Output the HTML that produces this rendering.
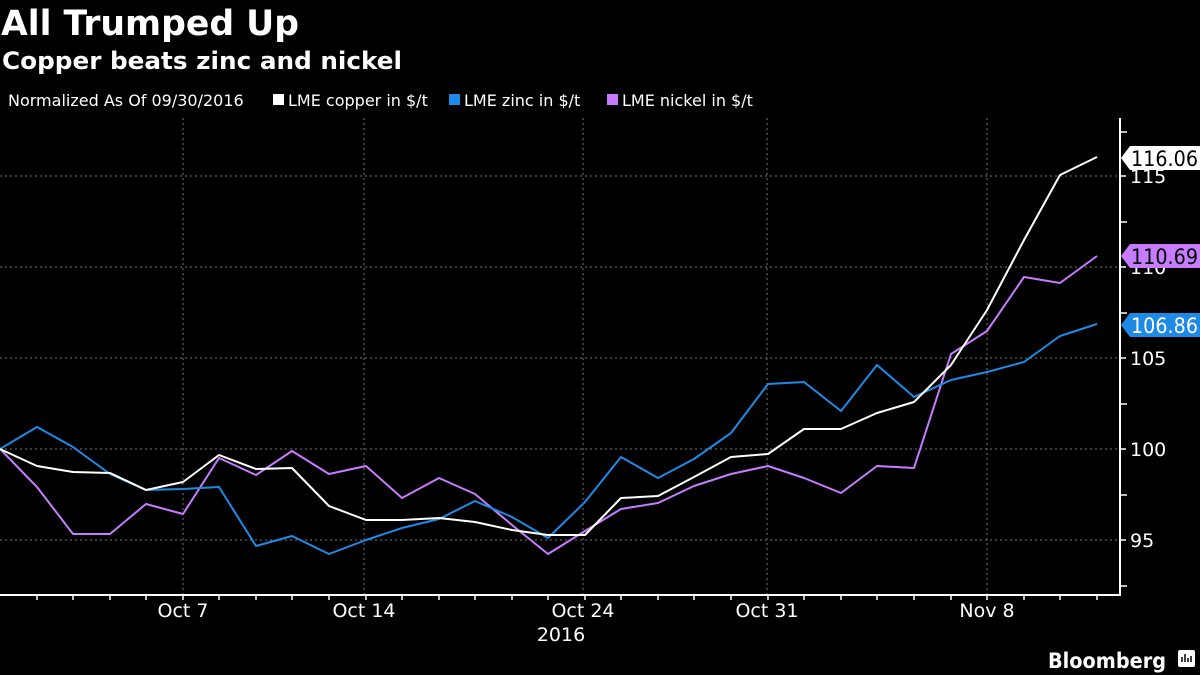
<!DOCTYPE html>
<html><head><meta charset="utf-8"><style>
html,body{margin:0;padding:0;background:#000;}
svg{display:block;font-family:"Liberation Sans","DejaVu Sans",sans-serif;}
</style></head><body>
<svg width="1200" height="675" viewBox="0 0 1200 675" xmlns="http://www.w3.org/2000/svg">
<rect width="1200" height="675" fill="#000"/>
<text x="1" y="35" fill="#fff" font-size="35" font-weight="bold" font-family="DejaVu Sans, sans-serif" textLength="298" lengthAdjust="spacingAndGlyphs">All Trumped Up</text>
<text x="2" y="69" fill="#fff" font-size="24" font-weight="bold" font-family="DejaVu Sans, sans-serif" textLength="400" lengthAdjust="spacingAndGlyphs">Copper beats zinc and nickel</text>
<g font-size="16" fill="#fff" font-family="DejaVu Sans, sans-serif">
<text x="8" y="106">Normalized As Of 09/30/2016</text>
<rect x="273" y="94" width="11" height="11" fill="#fff"/><text x="288" y="106">LME copper in $/t</text>
<rect x="449" y="94" width="11" height="11" fill="#1e8ae8"/><text x="464" y="106">LME zinc in $/t</text>
<rect x="607" y="94" width="11" height="11" fill="#c77cff"/><text x="622" y="106">LME nickel in $/t</text>
</g>
<g stroke="#777" stroke-width="1" stroke-dasharray="2,3">
<line x1="0" y1="176" x2="1120" y2="176"/><line x1="0" y1="267" x2="1120" y2="267"/>
<line x1="0" y1="358" x2="1120" y2="358"/><line x1="0" y1="449" x2="1120" y2="449"/>
<line x1="0" y1="540" x2="1120" y2="540"/>
<line x1="183" y1="118" x2="183" y2="595"/><line x1="364" y1="118" x2="364" y2="595"/>
<line x1="583" y1="118" x2="583" y2="595"/><line x1="767" y1="118" x2="767" y2="595"/>
<line x1="987" y1="118" x2="987" y2="595"/>
</g>
<g stroke="#fff" stroke-width="2" fill="none">
<polyline points="0,595 1120,595 1120,118"/>
</g>
<g stroke="#fff" stroke-width="1.5">
<line x1="1120" y1="132" x2="1127" y2="132"/><line x1="1120" y1="222" x2="1127" y2="222"/>
<line x1="1120" y1="313" x2="1127" y2="313"/><line x1="1120" y1="404" x2="1127" y2="404"/>
<line x1="1120" y1="495" x2="1127" y2="495"/><line x1="1120" y1="586" x2="1127" y2="586"/>
<line x1="1120" y1="176" x2="1126" y2="176"/><line x1="1120" y1="267" x2="1126" y2="267"/>
<line x1="1120" y1="358" x2="1126" y2="358"/><line x1="1120" y1="449" x2="1126" y2="449"/>
<line x1="1120" y1="540" x2="1126" y2="540"/>
<path d="M37,595v5M73,595v5M110,595v5M146,595v5M183,595v5M219,595v5M256,595v5M292,595v5M329,595v5M366,595v5M402,595v5M439,595v5M475,595v5M512,595v5M548,595v5M585,595v5M621,595v5M658,595v5M694,595v5M731,595v5M768,595v5M804,595v5M841,595v5M877,595v5M914,595v5M951,595v5M987,595v5M1024,595v5M1060,595v5M1097,595v5"/>
</g>
<g fill="#fff" font-size="19" font-family="DejaVu Sans, sans-serif">
<text x="1130" y="183">115</text><text x="1130" y="274">110</text>
<text x="1130" y="365">105</text><text x="1130" y="456">100</text><text x="1130" y="547">95</text>
<text x="183" y="617" text-anchor="middle">Oct 7</text><text x="364" y="617" text-anchor="middle">Oct 14</text>
<text x="583" y="617" text-anchor="middle">Oct 24</text><text x="767" y="617" text-anchor="middle">Oct 31</text>
<text x="987" y="617" text-anchor="middle">Nov 8</text>
<text x="561" y="641" text-anchor="middle">2016</text>
</g>
<g fill="none" stroke-width="2" stroke-linejoin="round">
<polyline stroke="#c77cff" points="0,449 37,487 73,534 110,534 146,504 183,514 219,458 256,475 292,451 329,474 366,466 402,498 439,478 475,494 512,525 548,554 585,531 621,509 658,503 694,486 731,474 768,466 804,478 841,493 877,466 914,468 951,354 987,331 1024,277 1060,283 1097,256"/>
<polyline stroke="#1e8ae8" points="0,449 37,427 73,447 110,474 146,490 183,489 219,487 256,546 292,536 329,554 366,540 402,528 439,519 475,501 512,517 548,538 585,502 621,457 658,478 694,459 731,433 768,384 804,382 841,411 877,365 914,397 951,380 987,372 1024,362 1060,336 1097,324"/>
<polyline stroke="#fff" points="0,449 37,466 73,472 110,473 146,490 183,482 219,455 256,469 292,468 329,506 366,520 402,520 439,518 475,522 512,530 548,535 585,535 621,498 658,496 694,477 731,457 768,454 804,429 841,429 877,413 914,402 951,365 987,310 1024,240 1060,175 1097,157"/>
</g>
<path d="M1121,158 L1130,146 L1200,146 L1200,170 L1130,170 Z" fill="#fff"/>
<path d="M1121,256 L1130,244 L1200,244 L1200,268 L1130,268 Z" fill="#c77cff"/>
<path d="M1121,325 L1130,313 L1200,313 L1200,337 L1130,337 Z" fill="#1e8ae8"/>
<g font-size="21" font-family="DejaVu Sans, sans-serif">
<text x="1131" y="166" fill="#000" textLength="67" lengthAdjust="spacingAndGlyphs">116.06</text>
<text x="1131" y="264" fill="#000" textLength="67" lengthAdjust="spacingAndGlyphs">110.69</text>
<text x="1131" y="333" fill="#fff" textLength="67" lengthAdjust="spacingAndGlyphs">106.86</text>
</g>
<text x="1048" y="668" fill="#fff" font-size="21" font-weight="bold" font-family="DejaVu Sans, sans-serif" textLength="118" lengthAdjust="spacingAndGlyphs">Bloomberg</text>
<rect x="1178" y="650" width="17" height="17" rx="2" fill="#fff"/>
<path d="M1182,662v-5M1185,662v-8M1188,662v-4M1191,662v-6" stroke="#000" stroke-width="1.5"/>
</svg>
</body></html>
